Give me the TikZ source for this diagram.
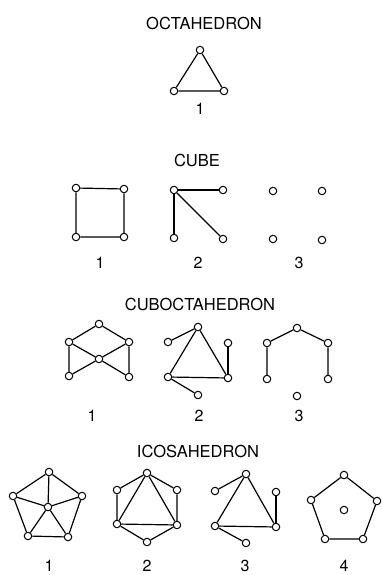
\documentclass[tikz,border=0pt]{standalone}
\usepackage{fontspec}
\setmainfont{TeX Gyre Heros}
\begin{document}
\begin{tikzpicture}[
    x=1pt, y=-1pt,
    vtx/.style={circle, draw, fill=white, line width=1pt, inner sep=0pt, minimum size=7.5pt},
    edge/.style={line width=1.2pt},
    title/.style={font=\fontsize{16.5}{18}\selectfont},
    num/.style={font=\fontsize{16}{18}\selectfont}
]
    \useasboundingbox (0,0) rectangle (381,575);

    % --- OCTAHEDRON ---
    \node[title] (toct) at (204,23) {OCTAHEDRON};
    \node[vtx] (oa) at (200,50) {};
    \node[vtx] (ob) at (174,91) {};
    \node[vtx] (oc) at (224,91) {};
    \draw[edge] (oa) -- (ob) -- (oc) -- (oa);
    \node[num] (no1) at (200,109) {1};

    % --- CUBE ---
    \node[title] (tcube) at (197,160) {CUBE};
    \node[vtx] (ka) at (76,188) {};
    \node[vtx] (kb) at (124,189) {};
    \node[vtx] (kc) at (76,237) {};
    \node[vtx] (kd) at (124,237) {};
    \draw[edge] (ka) -- (kb) -- (kd) -- (kc) -- (ka);
    \node[num] (nk1) at (100,263) {1};

    \node[vtx] (la) at (174,190) {};
    \node[vtx] (lb) at (223,190) {};
    \node[vtx] (lc) at (174,238) {};
    \node[vtx] (ld) at (223,239) {};
    \draw[edge] (lb) -- (la) -- (lc);
    \draw[edge] (la) -- (ld);
    \node[num] (nk2) at (198,263) {2};

    \node[vtx] (ma) at (273,191) {};
    \node[vtx] (mb) at (322,191) {};
    \node[vtx] (mc) at (273,239) {};
    \node[vtx] (md) at (322,240) {};
    \node[num] (nk3) at (299,263) {3};

    % --- CUBOCTAHEDRON ---
    \node[title] (tcub) at (200,304) {CUBOCTAHEDRON};
    \node[vtx] (pa) at (99,324) {};
    \node[vtx] (pb) at (69,342) {};
    \node[vtx] (pc) at (129,342) {};
    \node[vtx] (pd) at (99,359) {};
    \node[vtx] (pe) at (69,376) {};
    \node[vtx] (pf) at (129,377) {};
    \draw[edge] (pe) -- (pb) -- (pa) -- (pc) -- (pf);
    \draw[edge] (pb) -- (pd) -- (pf);
    \draw[edge] (pc) -- (pd) -- (pe);
    \node[num] (nc1) at (92,416) {1};

    \node[vtx] (qa) at (198,327) {};
    \node[vtx] (qb) at (168,342) {};
    \node[vtx] (qc) at (228,343) {};
    \node[vtx] (qd) at (168,377) {};
    \node[vtx] (qe) at (228,378) {};
    \node[vtx] (qf) at (198,395) {};
    \draw[edge] (qb) -- (qa) -- (qd) -- (qe) -- (qa);
    \draw[edge] (qc) -- (qe);
    \draw[edge] (qd) -- (qf);
    \node[num] (nc2) at (199,416) {2};

    \node[vtx] (ra) at (297,328) {};
    \node[vtx] (rb) at (267,343) {};
    \node[vtx] (rc) at (328,343) {};
    \node[vtx] (rd) at (267,379) {};
    \node[vtx] (re) at (328,379) {};
    \node[vtx] (rf) at (297,396) {};
    \draw[edge] (rd) -- (rb) -- (ra) -- (rc) -- (re);
    \node[num] (nc3) at (299,416) {3};

    % --- ICOSAHEDRON ---
    \node[title] (tico) at (198,451) {ICOSAHEDRON};
    \node[vtx] (sa) at (49,472) {};
    \node[vtx] (sb) at (13,496) {};
    \node[vtx] (sc) at (82,496) {};
    \node[vtx] (sd) at (48,507) {};
    \node[vtx] (se) at (28,536) {};
    \node[vtx] (sf) at (68,537) {};
    \draw[edge] (sa) -- (sc) -- (sf) -- (se) -- (sb) -- (sa);
    \draw[edge] (sa) -- (sd) -- (sb);
    \draw[edge] (sc) -- (sd) -- (se);
    \draw[edge] (sd) -- (sf);
    \node[num] (ni1) at (49,566) {1};

    \node[vtx] (ta) at (147,473) {};
    \node[vtx] (tb) at (117,490) {};
    \node[vtx] (tc) at (177,490) {};
    \node[vtx] (td) at (117,524) {};
    \node[vtx] (te) at (177,525) {};
    \node[vtx] (tf) at (147,542) {};
    \draw[edge] (ta) -- (tb) -- (td) -- (tf) -- (te) -- (tc) -- (ta);
    \draw[edge] (ta) -- (td) -- (te) -- (ta);
    \node[num] (ni2) at (147,566) {2};

    \node[vtx] (ua) at (246,474) {};
    \node[vtx] (ub) at (215,491) {};
    \node[vtx] (uc) at (276,492) {};
    \node[vtx] (ud) at (215,526) {};
    \node[vtx] (ue) at (276,527) {};
    \node[vtx] (uf) at (246,543) {};
    \draw[edge] (ub) -- (ua) -- (ud) -- (ue) -- (ua);
    \draw[edge] (uc) -- (ue);
    \draw[edge] (ud) -- (uf);
    \node[num] (ni3) at (245,566) {3};

    \node[vtx] (wa) at (344,475) {};
    \node[vtx] (wb) at (311,500) {};
    \node[vtx] (wc) at (377,501) {};
    \node[vtx] (wd) at (325,539) {};
    \node[vtx] (we) at (363,539) {};
    \node[vtx] (wf) at (344,510) {};
    \draw[edge] (wa) -- (wc) -- (we) -- (wd) -- (wb) -- (wa);
    \node[num] (ni4) at (344,566) {4};
\end{tikzpicture}
\end{document}
